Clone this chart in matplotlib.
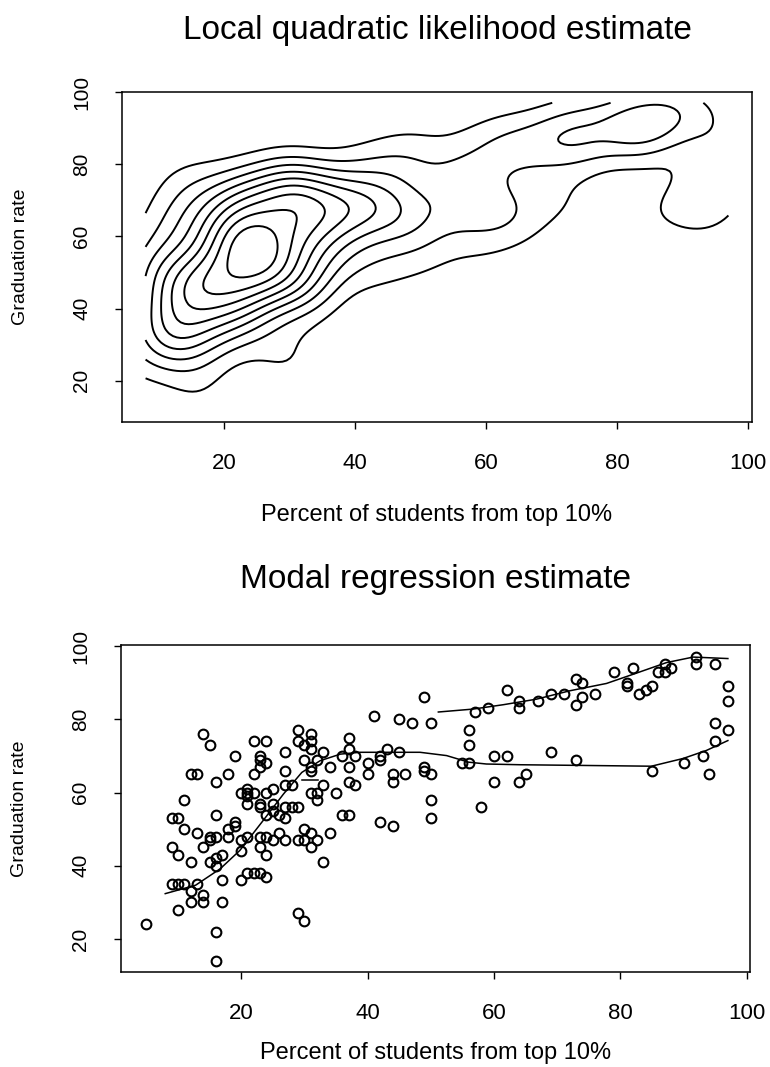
# Import dependencies
import numpy as np
import matplotlib
matplotlib.use("Agg")
import matplotlib.pyplot as plt

plt.rcParams['font.family'] = ['Liberation Sans', 'DejaVu Sans']

# Percent of students from top 10% (x) and graduation rate (y), one entry per college
top10_pct = [
    49, 41, 45, 47, 50, 14, 15, 29, 31, 29, 31, 30, 31, 22, 24, 37, 37,
    27, 33, 19, 23, 23, 24, 23, 22, 30, 32, 31, 31, 34, 36, 37, 38, 40, 40, 42, 42, 43, 45,
    49, 49, 50, 50, 50, 44, 44, 46, 42, 44,
    37, 38, 36, 37, 35, 33, 31, 32, 32,
    27, 27, 28, 20, 21, 21, 21, 21, 22, 24, 25, 23, 23, 25, 24, 25, 26, 27, 27, 28, 29,
    11, 12, 13, 16, 18, 16, 9, 10, 11, 13, 15, 15, 16, 14, 18, 18, 19, 19, 20, 21, 23, 24,
    25, 26, 27, 29, 30, 30, 31, 31, 32, 34, 33, 23,
    9, 10, 12, 15, 16, 17, 16, 20, 24, 24, 21, 22, 23, 20, 17, 9, 10, 11, 13, 12, 14, 12,
    14, 17, 10, 5, 16, 16, 29, 30,
    57, 59, 62, 64, 64, 67, 69, 71, 73, 74, 73, 74, 76, 79, 81, 81, 82, 83, 84, 85, 86, 87,
    87, 88, 92, 92, 95, 97, 97, 95, 97, 95, 93, 94, 90, 85, 56, 56, 55, 56, 60, 62, 69, 73,
    60, 64, 65, 58,
]
grad_rate = [
    86, 81, 80, 79, 79, 76, 73, 77, 76, 74, 74, 73, 72, 74, 74, 75, 72,
    71, 71, 70, 70, 69, 68, 67, 65, 69, 69, 67, 66, 67, 70, 67, 70, 68, 65, 70, 69, 72, 71,
    67, 66, 65, 58, 53, 65, 63, 65, 52, 51,
    63, 62, 54, 54, 60, 62, 60, 60, 58,
    66, 62, 62, 60, 61, 60, 59, 57, 60, 60, 61, 57, 56, 57, 54, 55, 54, 56, 53, 56, 56,
    58, 65, 65, 63, 65, 54, 53, 53, 50, 49, 48, 47, 48, 45, 48, 50, 51, 52, 47, 48, 48, 48,
    47, 49, 47, 47, 50, 47, 49, 45, 47, 49, 41, 45,
    45, 43, 41, 41, 42, 43, 40, 44, 43, 37, 38, 38, 38, 36, 36, 35, 35, 35, 35, 33, 32, 30,
    30, 30, 28, 24, 22, 14, 27, 25,
    82, 83, 88, 85, 83, 85, 87, 87, 91, 90, 84, 86, 87, 93, 90, 89, 94, 87, 88, 89, 93, 95,
    93, 94, 97, 95, 95, 89, 85, 79, 77, 74, 70, 65, 68, 66, 77, 73, 68, 68, 70, 70, 71, 69,
    63, 63, 65, 56,
]

# Modal regression curves
lower_mode_x = [8, 12.8, 16.7, 19.8, 23.5, 26.7, 29.6, 32.5, 35.7, 38.8, 44, 48.3, 52.5,
                56, 58.8, 64.1, 74.6, 84.9, 89.9, 93.6, 97]
lower_mode_y = [32.4, 34.7, 39.2, 44.2, 52.4, 59.6, 65.5, 68.7, 70.5, 71.0, 71.0, 71.0, 70.1,
                68.3, 67.8, 67.6, 67.4, 67.2, 69.3, 71.5, 74.2]
upper_mode_x = [51.2, 56.7, 61.5, 66.7, 72, 77.8, 82, 87.3, 91.5, 97]
upper_mode_y = [82.0, 82.8, 84.0, 85.5, 87.8, 89.8, 92.3, 95.5, 97.0, 96.6]
short_mode_x = [29.7, 32.2]
short_mode_y = [63.5, 63.5]

x = np.array(top10_pct, dtype=float)
y = np.array(grad_rate, dtype=float)

# Density surface for the contour panel (kernel estimate of the same points)
gx = np.linspace(8, 97, 150)
gy = np.linspace(14, 97, 150)
GX, GY = np.meshgrid(gx, gy)
hx, hy = 4.2, 6.5
dx = (GX[..., None] - x[None, None, :]) / hx
dy = (GY[..., None] - y[None, None, :]) / hy
dens = np.exp(-0.5 * (dx ** 2 + dy ** 2)).sum(axis=-1)
levels = np.linspace(0.1, 0.9, 9) * dens.max()

fig = plt.figure(figsize=(7.7, 10.67), dpi=100)
ax1 = fig.add_axes([122 / 770, 1 - 422 / 1067, 630 / 770, 330 / 1067])
ax2 = fig.add_axes([121 / 770, 1 - 972 / 1067, 629 / 770, 327 / 1067])

# Top panel: contours
ax1.contour(GX, GY, dens, levels=levels, colors='black', linewidths=1.4)
ax1.set_xlim(4.4, 100.6)
ax1.set_ylim(8.6, 100)
ax1.set_title("Local quadratic likelihood estimate", fontsize=24, pad=38)

# Bottom panel: scatter with modal curves
ax2.plot(x, y, 'o', mfc='none', mec='black', ms=7, mew=1.5)
ax2.plot(lower_mode_x, lower_mode_y, color='black', lw=1.1)
ax2.plot(upper_mode_x, upper_mode_y, color='black', lw=1.1)
ax2.plot(short_mode_x, short_mode_y, color='black', lw=1.1)
ax2.set_xlim(1.0, 100.5)
ax2.set_ylim(11, 100.3)
ax2.set_title("Modal regression estimate", fontsize=24, pad=41)

for ax in (ax1, ax2):
    ax.set_xticks([20, 40, 60, 80, 100])
    ax.set_yticks([20, 40, 60, 80, 100])
    ax.tick_params(axis='x', direction='out', length=5, width=1, labelsize=16, pad=17)
    ax.tick_params(axis='y', direction='out', length=5, width=1, labelsize=15, pad=17)
    for lab in ax.get_yticklabels():
        lab.set_rotation(90)
        lab.set_va('center')
    for sp in ax.spines.values():
        sp.set_linewidth(1.1)
    ax.set_xlabel("Percent of students from top 10%", fontsize=17)
    ax.set_ylabel("Graduation rate", fontsize=14)
    ax.yaxis.set_label_coords(-0.148, 0.5)

ax1.xaxis.set_label_coords(0.5, -0.25)
ax2.xaxis.set_label_coords(0.5, -0.215)

plt.savefig("out.png", dpi=100)
